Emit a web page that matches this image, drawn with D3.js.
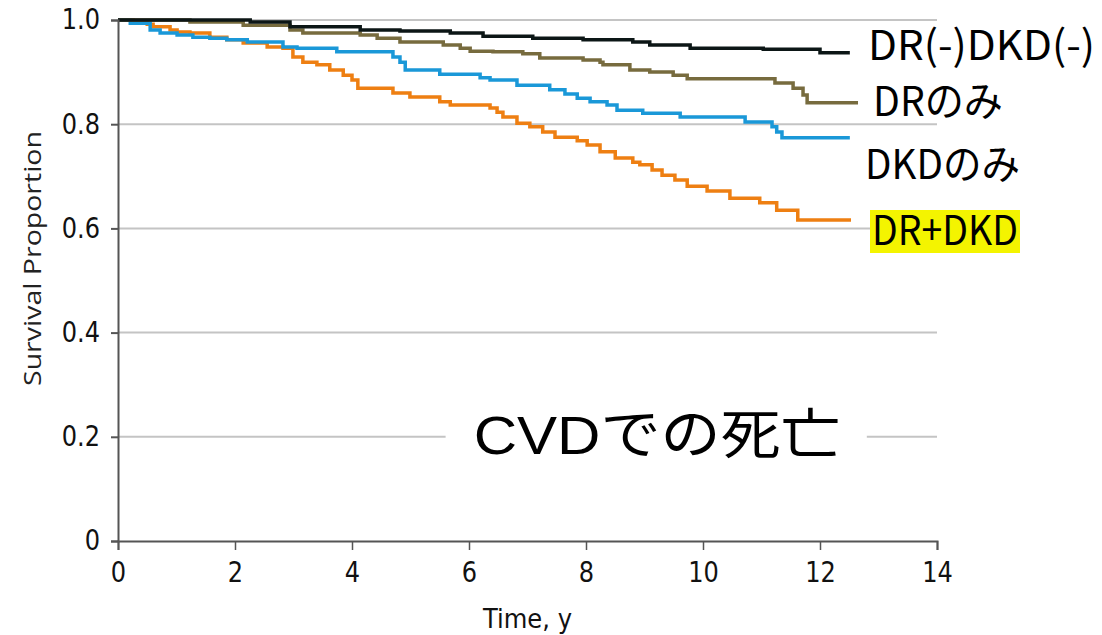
<!DOCTYPE html>
<html>
<head>
<meta charset="utf-8">
<script src="https://cdn.jsdelivr.net/npm/d3@7"></script>
<style>
  body { margin: 0; background: #fff; }
  #chart svg { display: block; }
</style>
</head>
<body>
<div id="chart"></div>
<script>
// Kaplan-Meier step points: [time (y), survival proportion]
const noneSeries = [
  [0, 1.0], [2.26, 0.996], [2.94, 0.987], [4.14, 0.981], [4.82, 0.979], [5.68, 0.975],
  [6.24, 0.969], [7.09, 0.965], [7.95, 0.962], [8.8, 0.958], [9.09, 0.952], [9.78, 0.946],
  [11.03, 0.944], [12.0, 0.937], [12.51, 0.937]
];
const drSeries = [
  [0, 1.0], [1.23, 0.996], [2.14, 0.99], [2.94, 0.981], [3.16, 0.975], [4.14, 0.971],
  [4.43, 0.965], [4.82, 0.958], [5.56, 0.952], [5.85, 0.946], [6.02, 0.94], [6.41, 0.939],
  [6.92, 0.935], [7.21, 0.927], [7.95, 0.923], [8.24, 0.919], [8.29, 0.914], [8.75, 0.904],
  [9.09, 0.9], [9.49, 0.894], [9.73, 0.887], [11.23, 0.879], [11.54, 0.869], [11.71, 0.856],
  [11.78, 0.841], [12.65, 0.841]
];
const dkdSeries = [
  [0, 1.0], [0.21, 0.994], [0.55, 0.981], [0.72, 0.975], [1.01, 0.971], [1.28, 0.967],
  [1.57, 0.965], [1.86, 0.962], [2.21, 0.958], [2.82, 0.948], [3.06, 0.946], [3.74, 0.939],
  [4.7, 0.929], [4.82, 0.919], [4.91, 0.904], [5.5, 0.896], [6.19, 0.889], [6.36, 0.885],
  [6.82, 0.875], [7.38, 0.866], [7.64, 0.858], [7.85, 0.85], [8.07, 0.843], [8.36, 0.837],
  [8.53, 0.827], [8.97, 0.821], [9.61, 0.814], [10.72, 0.804], [11.18, 0.795], [11.26, 0.785],
  [11.35, 0.774], [12.51, 0.774]
];
const bothSeries = [
  [0, 1.0], [0.26, 0.996], [0.5, 0.992], [0.6, 0.987], [0.89, 0.981], [1.01, 0.977],
  [1.23, 0.975], [1.57, 0.967], [1.86, 0.962], [2.14, 0.956], [2.55, 0.948], [2.82, 0.946],
  [2.99, 0.929], [3.16, 0.919], [3.4, 0.914], [3.62, 0.904], [3.85, 0.894], [4.0, 0.885],
  [4.1, 0.869], [4.7, 0.86], [4.99, 0.852], [5.5, 0.843], [5.68, 0.837], [6.36, 0.831],
  [6.48, 0.823], [6.58, 0.814], [6.82, 0.802], [7.04, 0.795], [7.26, 0.785], [7.47, 0.775],
  [7.85, 0.768], [8.02, 0.76], [8.24, 0.747], [8.5, 0.735], [8.8, 0.727], [8.92, 0.722],
  [9.13, 0.712], [9.3, 0.702], [9.52, 0.693], [9.73, 0.681], [10.07, 0.672], [10.46, 0.658],
  [10.97, 0.649], [11.26, 0.635], [11.62, 0.616], [12.53, 0.616]
];

const seriesNames = ["DR(-)DKD(-)", "DRのみ", "DKDのみ", "DR+DKD"];
const xTicks = [0, 2, 4, 6, 8, 10, 12, 14];
const yTicks = [0, 0.2, 0.4, 0.6, 0.8, 1.0];
const yTickLabels = ["0", "0.2", "0.4", "0.6", "0.8", "1.0"];
const chartTitle = "CVDでの死亡";

// Dimensions and margins
const totalWidth = 1102;
const totalHeight = 635;
const margin = { top: 20, right: 165, bottom: 94, left: 118 };
const width = totalWidth - margin.left - margin.right;
const height = totalHeight - margin.top - margin.bottom;

const svg = d3.select("#chart")
  .append("svg")
  .attr("width", totalWidth)
  .attr("height", totalHeight);

const g = svg.append("g")
  .attr("transform", `translate(${margin.left},${margin.top})`);

const x = d3.scaleLinear().domain([0, 14]).range([0, width]);
const y = d3.scaleLinear().domain([0, 1]).range([height, 0]);

const tickFont = "'DejaVu Sans', sans-serif";
const squeeze = 0.86; // condensed look of the original labels

// Horizontal gridlines
g.selectAll(".grid")
  .data(yTicks.filter(d => d > 0))
  .enter()
  .append("line")
  .attr("class", "grid")
  .attr("x1", 0)
  .attr("x2", width)
  .attr("y1", d => y(d))
  .attr("y2", d => y(d))
  .attr("stroke", "#c4c4c4")
  .attr("stroke-width", 2);

// Survival curves
const line = d3.line()
  .x(d => x(d[0]))
  .y(d => y(d[1]))
  .curve(d3.curveStepAfter);

const curves = [
  { data: bothSeries, color: "#ee7f12" },
  { data: dkdSeries, color: "#1a98d8" },
  { data: drSeries, color: "#776b3e" },
  { data: noneSeries, color: "#0c1616" }
];

curves.forEach(c => {
  g.append("path")
    .datum(c.data)
    .attr("fill", "none")
    .attr("stroke", c.color)
    .attr("stroke-width", 3.5)
    .attr("d", line);
});

// Left axis
const yAxis = g.append("g")
  .call(d3.axisLeft(y).tickValues(yTicks).tickSize(7).tickPadding(11)
    .tickFormat((d, i) => yTickLabels[i]));
yAxis.select(".domain").attr("stroke", "#555").attr("stroke-width", 2);
yAxis.selectAll(".tick line").attr("stroke", "#555").attr("stroke-width", 2);
yAxis.selectAll(".tick text")
  .attr("font-family", tickFont)
  .attr("font-size", 28)
  .attr("fill", "#111")
  .attr("x", -18 / squeeze)
  .attr("transform", `scale(${squeeze},1)`);

// Bottom axis
const xAxis = g.append("g")
  .attr("transform", `translate(0,${height})`)
  .call(d3.axisBottom(x).tickValues(xTicks).tickSize(9).tickPadding(12));
xAxis.select(".domain").attr("stroke", "#555").attr("stroke-width", 2);
xAxis.selectAll(".tick line").attr("stroke", "#555").attr("stroke-width", 1.5);
xAxis.selectAll(".tick text")
  .attr("font-family", tickFont)
  .attr("font-size", 28)
  .attr("fill", "#111")
  .attr("transform", `scale(${squeeze},1)`);

// Axis captions
g.append("text")
  .attr("x", 365)
  .attr("y", height + 87)
  .attr("font-family", tickFont)
  .attr("font-size", 26)
  .attr("fill", "#111")
  .attr("textLength", 89)
  .attr("lengthAdjust", "spacingAndGlyphs")
  .text("Time, y");

g.append("text")
  .attr("transform", `translate(-77,${height / 2 - 22}) rotate(-90)`)
  .attr("text-anchor", "middle")
  .attr("font-family", "'Open Sans', 'DejaVu Sans', sans-serif")
  .attr("font-size", 23)
  .attr("fill", "#222")
  .attr("textLength", 255)
  .attr("lengthAdjust", "spacingAndGlyphs")
  .text("Survival Proportion");

// Title box covering the 0.2 gridline
const titleX = x(6.08);
g.append("rect")
  .attr("x", x(5.6))
  .attr("y", y(0.2) - 30)
  .attr("width", x(12.8) - x(5.6))
  .attr("height", 60)
  .attr("fill", "#fff");

g.append("text")
  .attr("x", titleX)
  .attr("y", y(0.2) + 17)
  .attr("font-family", "'Liberation Sans', 'Noto Sans CJK JP', sans-serif")
  .attr("font-size", 54)
  .attr("fill", "#000")
  .attr("textLength", 367)
  .attr("lengthAdjust", "spacingAndGlyphs")
  .text(chartTitle);

// Curve labels at right
const labelInfo = [
  { text: seriesNames[0], lx: 868, by: 60, len: 227 },
  { text: seriesNames[1], lx: 873, by: 116, len: 130 },
  { text: seriesNames[2], lx: 865, by: 179, len: 155 },
  { text: seriesNames[3], lx: 872, by: 245, len: 146 }
];

// Yellow highlight behind DR+DKD
svg.append("rect")
  .attr("x", 870)
  .attr("y", 210)
  .attr("width", 150)
  .attr("height", 43)
  .attr("fill", "#f4f400");

svg.selectAll(".series-label")
  .data(labelInfo)
  .enter()
  .append("text")
  .attr("class", "series-label")
  .attr("x", d => d.lx)
  .attr("y", d => d.by)
  .attr("font-family", "'Noto Sans CJK JP', sans-serif")
  .attr("font-size", 41)
  .attr("fill", "#000")
  .attr("textLength", d => d.len)
  .attr("lengthAdjust", "spacingAndGlyphs")
  .text(d => d.text);
</script>
</body>
</html>
